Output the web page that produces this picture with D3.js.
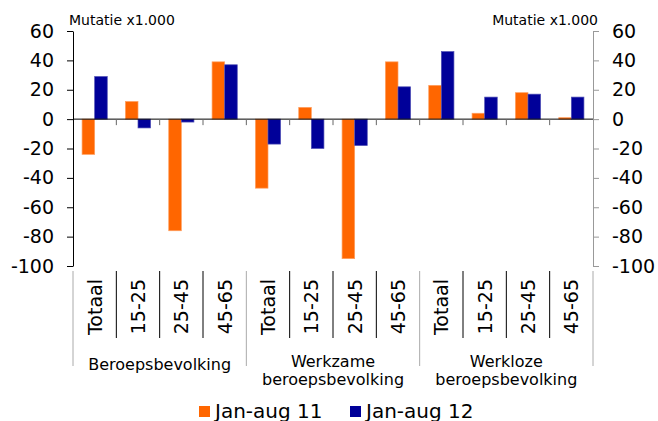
<html><head>
  <meta charset="utf-8">
  <script src="https://d3js.org/d3.v7.min.js"></script>
</head>
<body style="margin:0">
  <style>
  body { background: white; }
  text { font-family: 'DejaVu Sans', Verdana, sans-serif; fill: #000; }
  </style>

  <script>
    // data
    const groups = [["Beroepsbevolking"], ["Werkzame", "beroepsbevolking"], ["Werkloze", "beroepsbevolking"]]
    const ageClasses = ["Totaal", "15-25", "25-45", "45-65"]
    const seriesNames = ["Jan-aug 11", "Jan-aug 12"]
    const values11 = [-24, 12, -76, 39, -47, 8, -95, 39, 23, 4, 18, 1]
    const values12 = [29, -6, -2, 37, -17, -20, -18, 22, 46, 15, 17, 15]
    const yTicks = [-100, -80, -60, -40, -20, 0, 20, 40, 60]
    const colors = ["#ff6600", "#000099"]
    const strokes = ["#ff9f60", "#5050b5"]

    const categories = groups.flatMap((g, gi) => ageClasses.map(a => gi + "|" + a))
    const rows = categories.map((c, i) => ({cat: c, age: c.split("|")[1], vals: [values11[i], values12[i]]}))

    const svg = d3.select("body").append("svg")
                  .attr("width", 658).attr("height", 421)

    const margin = {top: 31, left: 73, right: 65, bottom: 155}
    const x = d3.scaleBand().domain(categories).range([margin.left, 658 - margin.right]).padding(0)
    const y = d3.scaleLinear().domain([-100, 60]).range([421 - margin.bottom, margin.top])
    const sub = d3.scaleBand().domain([0, 1]).range([0, x.bandwidth()]).paddingOuter(0.72).paddingInner(0)

    // bars
    const barArea = svg.append("g")
    barArea.selectAll("g.cat").data(rows).join("g").attr("class", "cat")
      .attr("transform", d => `translate(${x(d.cat)},0)`)
      .selectAll("rect").data(d => d.vals.map((v, k) => ({v, k})))
      .join("rect")
        .attr("x", d => sub(d.k))
        .attr("width", sub.bandwidth())
        .attr("y", d => y(Math.max(0, d.v)))
        .attr("height", d => Math.abs(y(d.v) - y(0)))
        .attr("fill", d => colors[d.k])
        .attr("stroke", d => strokes[d.k])
        .attr("stroke-width", 0.7)

    // axes (hyphen as minus, like the original)
    const fmt = d => String(d)
    const leftAxis = svg.append("g").attr("transform", `translate(${margin.left},0)`)
      .call(d3.axisLeft(y).tickValues(yTicks).tickFormat(fmt).tickSize(6).tickSizeOuter(0).tickPadding(13))
    leftAxis.selectAll("text").attr("font-size", 19).attr("font-family", "DejaVu Sans")
    leftAxis.selectAll("line, path").attr("stroke", "#000")

    const rightAxis = svg.append("g").attr("transform", `translate(${658 - margin.right},0)`)
      .call(d3.axisRight(y).tickValues(yTicks).tickFormat(fmt).tickSize(6).tickSizeOuter(0).tickPadding(13))
    rightAxis.selectAll("text").attr("font-size", 19).attr("font-family", "DejaVu Sans")
    rightAxis.selectAll("line, path").attr("stroke", "#999")

    // zero line and category ticks
    const boundaries = categories.map(c => x(c)).concat([x.range()[1]])
    svg.append("line")
       .attr("x1", x.range()[0]).attr("x2", x.range()[1])
       .attr("y1", y(0)).attr("y2", y(0))
       .attr("stroke", "#000")
    svg.append("g").selectAll("line").data(boundaries.slice(1, -1)).join("line")
       .attr("x1", d => d).attr("x2", d => d)
       .attr("y1", y(0)).attr("y2", y(0) + 6)
       .attr("stroke", "#666")

    // category label separators
    const sepTop = y(-100) + 5
    svg.append("g").selectAll("line").data(boundaries).join("line")
       .attr("x1", d => d).attr("x2", d => d)
       .attr("y1", sepTop)
       .attr("y2", (d, i) => i % 4 == 0 ? sepTop + 95 : sepTop + 67)
       .attr("stroke", (d, i) => i % 4 == 0 ? "#aaa" : "#000")

    // category labels
    svg.append("g").selectAll("text").data(rows).join("text")
       .attr("transform", d => `translate(${x(d.cat) + x.bandwidth() / 2},${sepTop + 8}) rotate(-90)`)
       .attr("text-anchor", "end")
       .attr("dy", "0.36em")
       .attr("font-size", 19)
       .text(d => d.age)

    // group labels
    svg.append("g").selectAll("text").data(groups).join("text")
       .attr("x", (g, gi) => (boundaries[gi * 4] + boundaries[gi * 4 + 4]) / 2)
       .attr("y", g => g.length == 1 ? sepTop + 99 : sepTop + 96)
       .attr("text-anchor", "middle")
       .attr("font-size", 16)
       .selectAll("tspan").data(g => g).join("tspan")
         .attr("x", function() { return d3.select(this.parentNode).attr("x") })
         .attr("dy", (d, i) => i == 0 ? 0 : 18)
         .text(d => d)

    // unit labels
    svg.append("text").attr("x", 69).attr("y", 25).attr("font-size", 14).text("Mutatie x1.000")
    svg.append("text").attr("x", 598).attr("y", 25).attr("font-size", 14)
       .attr("text-anchor", "end").text("Mutatie x1.000")

    // legend
    const legend = svg.append("g").selectAll("g").data(seriesNames).join("g")
       .attr("transform", (d, i) => `translate(${199 + i * 151},406)`)
    legend.append("rect").attr("width", 11).attr("height", 11).attr("fill", (d, i) => colors[i])
    legend.append("text").attr("x", 16).attr("y", 11.5).attr("font-size", 20).text(d => d)
  </script>
</body>
</html>
